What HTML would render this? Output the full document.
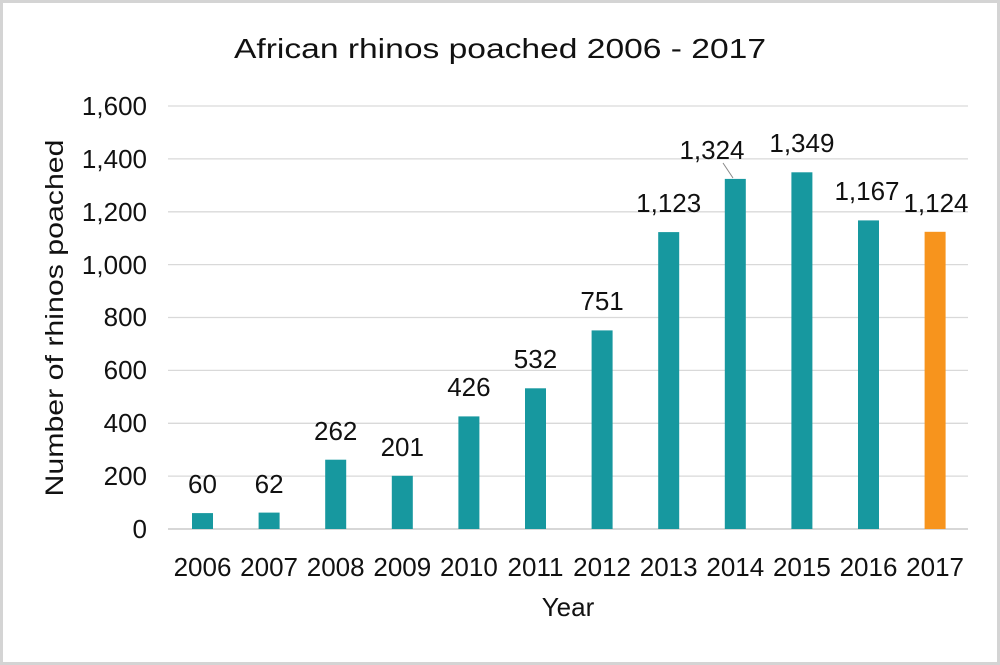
<!DOCTYPE html>
<html><head><style>
html,body{margin:0;padding:0;background:#fff}
svg{display:block}
text{font-family:"Liberation Sans",Arial,sans-serif;fill:#111}
</style></head><body>
<svg width="1000" height="665" viewBox="0 0 1000 665">
<rect x="1.5" y="1.5" width="997" height="662" fill="#fff" stroke="#d4d4d4" stroke-width="3"/>
<g stroke="#d9d9d9" stroke-width="1.3">
<line x1="168" x2="968" y1="106" y2="106"/>
<line x1="168" x2="968" y1="158.9" y2="158.9"/>
<line x1="168" x2="968" y1="211.8" y2="211.8"/>
<line x1="168" x2="968" y1="264.6" y2="264.6"/>
<line x1="168" x2="968" y1="317.5" y2="317.5"/>
<line x1="168" x2="968" y1="370.4" y2="370.4"/>
<line x1="168" x2="968" y1="423.3" y2="423.3"/>
<line x1="168" x2="968" y1="476.1" y2="476.1"/>
<line x1="168" x2="968" y1="529" y2="529" stroke="#bfbfbf"/>
</g>
<text x="500" y="58" font-size="28" text-anchor="middle" textLength="532" lengthAdjust="spacingAndGlyphs">African rhinos poached 2006 - 2017</text>
<text transform="translate(63,318) rotate(-90)" font-size="25" text-anchor="middle" textLength="357" lengthAdjust="spacingAndGlyphs">Number  of rhinos poached</text>
<g fill="#17989f">
<rect x="192" y="513.1" width="21" height="15.9"/>
<rect x="258.6" y="512.6" width="21" height="16.4"/>
<rect x="325.2" y="459.7" width="21" height="69.3"/>
<rect x="391.8" y="475.8" width="21" height="53.2"/>
<rect x="458.4" y="416.4" width="21" height="112.6"/>
<rect x="525" y="388.3" width="21" height="140.7"/>
<rect x="591.6" y="330.4" width="21" height="198.6"/>
<rect x="658.2" y="232.1" width="21" height="296.9"/>
<rect x="724.8" y="178.9" width="21" height="350.1"/>
<rect x="791.4" y="172.3" width="21" height="356.7"/>
<rect x="858" y="220.4" width="21" height="308.6"/>
</g>
<rect x="924.6" y="231.8" width="21" height="297.2" fill="#f7941d"/>
<line x1="723" y1="163" x2="733" y2="178" stroke="#888" stroke-width="1"/>
<g font-size="26" text-anchor="end">
<text x="147" y="538">0</text>
<text x="147" y="485">200</text>
<text x="147" y="432">400</text>
<text x="147" y="379">600</text>
<text x="147" y="326">800</text>
<text x="147" y="274">1,000</text>
<text x="147" y="221">1,200</text>
<text x="147" y="168">1,400</text>
<text x="147" y="115">1,600</text>
</g>
<g font-size="26" text-anchor="middle">
<text x="202.5" y="493">60</text>
<text x="269.1" y="493">62</text>
<text x="335.7" y="440">262</text>
<text x="402.3" y="456">201</text>
<text x="468.9" y="396">426</text>
<text x="535.5" y="368">532</text>
<text x="602.1" y="310">751</text>
<text x="668.7" y="212">1,123</text>
<text x="712" y="159">1,324</text>
<text x="801.9" y="152">1,349</text>
<text x="867" y="200">1,167</text>
<text x="936" y="212">1,124</text>
</g>
<g font-size="26" text-anchor="middle">
<text x="202.5" y="576">2006</text>
<text x="269.1" y="576">2007</text>
<text x="335.7" y="576">2008</text>
<text x="402.3" y="576">2009</text>
<text x="468.9" y="576">2010</text>
<text x="535.5" y="576">2011</text>
<text x="602.1" y="576">2012</text>
<text x="668.7" y="576">2013</text>
<text x="735.3" y="576">2014</text>
<text x="801.9" y="576">2015</text>
<text x="868.5" y="576">2016</text>
<text x="935.1" y="576">2017</text>
</g>
<text x="568" y="616" font-size="26" text-anchor="middle">Year</text>
</svg>
</body></html>
